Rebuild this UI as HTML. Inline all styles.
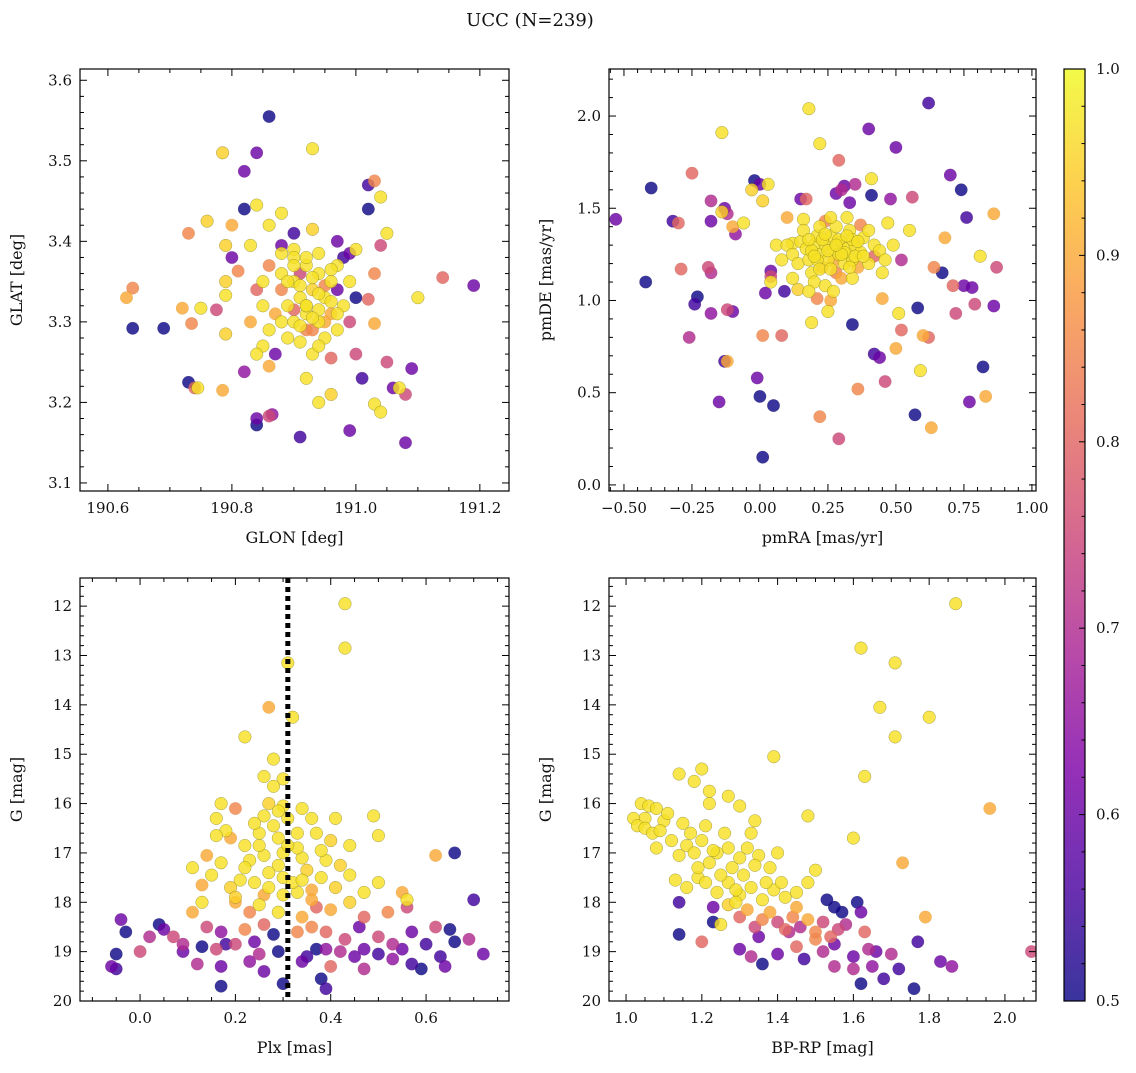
<!DOCTYPE html>
<html><head><meta charset="utf-8"><style>
body{margin:0;background:#fff;}
svg text{font-family:"DejaVu Serif","Liberation Serif",serif;fill:#111;}
</style></head><body>
<svg id="fig" width="1136" height="1068" viewBox="0 0 1136 1068" xmlns="http://www.w3.org/2000/svg">
<defs>
<linearGradient id="cbgrad" x1="0" y1="1" x2="0" y2="0">
<stop offset="0" stop-color="#0d0887"/><stop offset="0.125" stop-color="#4c02a1"/><stop offset="0.25" stop-color="#7e03a8"/><stop offset="0.375" stop-color="#a92395"/><stop offset="0.5" stop-color="#cc4778"/><stop offset="0.625" stop-color="#e66c5c"/><stop offset="0.75" stop-color="#f89540"/><stop offset="0.875" stop-color="#fdc527"/><stop offset="1" stop-color="#f0f921"/>
</linearGradient>
</defs>
<text x="530" y="26" font-size="18" text-anchor="middle">UCC (N=239)</text>
</svg>
<script>
// ---- Panel 1: GLON vs GLAT ----
const glonVals=[190.86,190.785,190.84,190.93,190.82,191.02,191.03,191.04,190.82,190.84,190.76,190.73,190.80,190.79,190.80,190.81,190.79,190.79,190.64,190.63,190.64,190.69,190.72,190.735,190.75,190.775,190.79,190.73,190.74,190.745,190.785,190.82,190.86,190.84,190.84,190.86,190.865,190.91,190.92,190.94,190.96,190.99,191.01,191.03,191.04,191.05,191.06,191.07,191.08,191.08,191.09,191.10,191.14,191.19,191.03,191.03,191.02,191.0,191.02,191.04,191.05,190.99,191.0,190.97,190.93,190.88,190.9,190.86,190.88,190.9,190.83,190.85,190.84,
190.88,190.9,190.92,190.94,190.96,190.91,190.93,190.95,190.89,190.87,190.9,190.92,190.94,190.96,190.98,190.88,190.86,190.89,190.92,190.95,190.97,190.99,190.85,190.87,190.93,190.96,190.9,190.94,190.97,190.99,190.86,190.88,190.91,190.97,190.98,190.85,190.83,190.84,191.0,190.92,
190.91,190.93,190.95,190.92,190.94,190.9,190.96,190.93,190.91,190.95,190.89,190.97,190.92,190.94,190.9,190.93,190.88,190.96,190.91,190.94];
const glatVals=[3.555,3.51,3.51,3.515,3.487,3.47,3.475,3.455,3.44,3.445,3.425,3.41,3.42,3.395,3.38,3.363,3.35,3.333,3.342,3.33,3.292,3.292,3.317,3.298,3.317,3.315,3.285,3.225,3.218,3.218,3.215,3.238,3.245,3.18,3.172,3.183,3.185,3.157,3.23,3.2,3.21,3.165,3.23,3.198,3.188,3.25,3.218,3.218,3.21,3.15,3.242,3.33,3.355,3.345,3.36,3.298,3.328,3.33,3.44,3.395,3.41,3.385,3.39,3.4,3.415,3.435,3.41,3.42,3.395,3.39,3.395,3.35,3.34,
3.36,3.35,3.37,3.36,3.35,3.33,3.34,3.33,3.32,3.31,3.3,3.31,3.3,3.31,3.32,3.34,3.29,3.28,3.29,3.28,3.29,3.3,3.27,3.26,3.26,3.255,3.38,3.385,3.37,3.35,3.37,3.385,3.36,3.34,3.38,3.32,3.3,3.26,3.26,3.32,
3.345,3.355,3.345,3.32,3.315,3.315,3.325,3.305,3.295,3.3,3.35,3.31,3.38,3.335,3.37,3.29,3.3,3.365,3.275,3.27];
const prob1=[.5,.95,.6,.97,.6,.55,.85,.97,.5,.97,.95,.85,.9,.95,.6,.85,.95,.97,.85,.9,.5,.5,.9,.85,.97,.75,.95,.5,.8,.97,.9,.65,.9,.6,.5,.75,.65,.55,.97,.97,.95,.6,.55,.97,.97,.75,.6,.97,.75,.6,.6,.97,.8,.6,.85,.9,.8,.5,.5,.75,.97,.6,.97,.6,.95,.97,.55,.97,.6,.97,.97,.97,.8,
.97,.97,.97,.97,.97,.97,.95,.97,.97,.9,.97,.97,.97,.9,.97,.85,.97,.97,.85,.97,.97,.75,.97,.6,.97,.8,.97,.97,.97,.97,.85,.97,.75,.6,.55,.97,.9,.97,.75,.97,
.97,.97,.85,.97,.97,.8,.97,.97,.97,.9,.97,.97,.97,.97,.97,.85,.97,.97,.97,.97];

// ---- Panel 2: pmRA vs pmDE ----
const pmraVals=[-0.53,-0.4,-0.42,-0.32,-0.3,-0.25,-0.29,-0.23,-0.24,-0.26,-0.18,-0.18,-0.19,-0.18,-0.18,-0.14,-0.14,-0.13,-0.12,-0.1,-0.09,-0.15,-0.13,-0.12,-0.12,-0.1,-0.06,-0.03,-0.02,0.0,0.01,0.03,-0.01,0.0,0.01,0.01,0.05,0.02,0.04,0.04,0.04,0.06,0.08,0.09,0.1,0.12,0.14,0.15,0.16,0.17,0.18,0.19,0.21,0.22,0.22,0.24,0.25,0.26,0.28,0.29,0.29,0.3,0.31,0.33,0.34,0.35,0.37,0.36,0.4,0.41,0.41,0.42,0.42,0.44,0.45,0.46,0.47,0.48,0.49,0.5,0.5,0.51,0.52,0.52,0.55,0.56,0.57,0.58,0.59,0.6,0.62,0.62,0.63,0.64,0.67,0.68,0.7,0.71,0.72,0.74,0.75,0.76,0.77,0.78,0.79,0.81,0.82,0.83,0.86,0.86,0.87,
0.1,0.12,0.14,0.15,0.17,0.18,0.19,0.2,0.21,0.22,0.23,0.24,0.25,0.26,0.27,0.28,0.29,0.3,0.31,0.32,0.33,0.34,0.35,0.36,0.37,0.38,0.4,0.42,0.44,0.46,0.2,0.24,0.3,0.16,0.28,0.22,0.12,0.08,0.34,0.27,0.26,0.32,0.18,0.4,0.45,
0.19,0.21,0.23,0.25,0.27,0.29,0.31,0.33,0.35,0.22,0.26,0.3,0.34,0.24,0.28,0.32,0.2,0.36,0.18,0.38];
const pmdeVals=[1.44,1.61,1.1,1.43,1.42,1.69,1.17,1.02,0.98,0.8,1.54,1.43,1.18,1.15,0.93,1.91,1.48,1.5,1.47,1.4,1.36,0.45,0.67,0.67,0.95,0.94,1.42,1.6,1.65,1.63,1.54,1.63,0.58,0.48,0.81,0.15,0.43,1.04,1.13,1.16,1.1,1.3,0.81,1.05,1.45,1.31,1.06,1.55,1.44,1.55,2.04,0.88,1.01,1.85,0.37,1.43,0.94,1.0,1.58,1.76,0.25,1.6,1.62,1.53,0.87,1.63,1.41,0.52,1.93,1.66,1.57,0.71,1.24,0.69,1.01,0.56,1.42,1.55,1.3,1.83,0.74,0.93,0.84,1.22,1.38,1.56,0.38,0.96,0.62,0.81,0.8,2.07,0.31,1.18,1.15,1.34,1.68,1.08,0.93,1.6,1.08,1.45,0.45,1.07,0.98,1.24,0.64,0.48,1.47,0.97,1.18,
1.3,1.25,1.2,1.32,1.28,1.22,1.15,1.3,1.35,1.25,1.18,1.3,1.22,1.35,1.28,1.15,1.25,1.32,1.2,1.28,1.38,1.22,1.3,1.18,1.26,1.34,1.2,1.3,1.27,1.22,1.1,1.08,1.12,1.38,1.4,1.4,1.12,1.22,1.12,1.05,1.45,1.45,1.05,1.38,1.15,
1.27,1.22,1.33,1.27,1.21,1.33,1.26,1.18,1.24,1.17,1.17,1.25,1.33,1.36,1.3,1.35,1.24,1.32,1.33,1.24];
const prob2=[.6,.5,.5,.55,.8,.8,.8,.5,.55,.7,.7,.6,.75,.7,.65,.97,.95,.6,.7,.9,.65,.6,.55,.9,.75,.6,.97,.95,.5,.6,.95,.97,.6,.5,.85,.5,.5,.6,.75,.6,.97,.97,.8,.55,.9,.97,.95,.6,.97,.8,.97,.97,.85,.97,.85,.85,.97,.9,.6,.8,.75,.7,.6,.6,.5,.7,.85,.85,.6,.97,.5,.55,.8,.6,.9,.75,.97,.65,.97,.6,.9,.97,.8,.7,.97,.75,.5,.5,.97,.9,.8,.55,.9,.85,.5,.9,.6,.8,.75,.5,.6,.55,.6,.6,.75,.97,.5,.9,.9,.6,.75,
.97,.97,.97,.97,.97,.97,.97,.97,.97,.97,.9,.97,.97,.97,.97,.85,.97,.97,.97,.97,.97,.97,.97,.9,.97,.97,.97,.97,.97,.97,.97,.97,.9,.97,.97,.97,.97,.97,.97,.97,.97,.97,.97,.97,.97,
.97,.97,.97,.97,.9,.97,.97,.97,.97,.97,.97,.97,.97,.97,.97,.97,.97,.97,.97,.97];

// ---- Panel 3: Plx vs G ----
const plxVals=[0.43,0.43,0.31,0.32,0.27,0.22,0.28,0.26,0.3,0.28,0.17,0.2,0.27,0.3,0.34,0.26,0.36,0.41,0.49,0.5,0.16,0.18,0.19,0.16,0.22,0.25,0.29,0.33,0.37,0.4,0.44,0.14,0.11,0.17,0.23,0.26,0.3,0.34,0.39,0.42,0.38,0.44,0.15,0.13,0.19,0.21,0.24,0.27,0.3,0.33,0.36,0.41,0.47,0.5,0.55,0.56,0.62,0.66,0.7,0.11,0.13,0.2,0.23,0.25,0.29,0.34,0.37,0.4,0.44,0.47,0.52,0.56,0.14,0.17,0.22,0.26,0.33,0.36,0.39,0.43,0.46,0.5,0.53,0.57,0.6,0.62,0.65,0.69,-0.04,0.04,0.07,0.05,0.09,0.13,0.18,0.2,0.24,0.28,0.35,0.37,0.39,0.42,0.47,0.5,0.55,0.57,0.59,0.63,0.64,0.66,0.72,-0.05,-0.05,-0.06,-0.03,0.0,0.02,0.09,0.12,0.16,0.17,0.17,0.23,0.26,0.3,0.34,0.38,0.4,0.39,0.45,0.47,0.53,0.25,0.29,
0.28,0.31,0.33,0.25,0.29,0.35,0.27,0.32,0.22,0.38,0.3,0.26,0.34,0.24,0.29,0.31,0.36,0.2];
const gPlxVals=[11.95,12.85,13.15,14.25,14.05,14.65,15.1,15.45,15.5,15.65,16.0,16.1,16.0,16.05,16.1,16.25,16.3,16.3,16.25,16.65,16.3,16.55,16.7,16.65,16.85,16.6,16.7,16.6,16.6,16.75,16.85,17.05,17.3,17.2,17.15,17.05,17.0,17.1,17.15,17.25,17.5,17.45,17.45,17.65,17.7,17.55,17.6,17.7,17.5,17.8,17.75,17.7,17.8,17.6,17.8,17.95,17.05,17.0,17.95,18.2,18.0,18.0,18.2,18.05,18.2,18.3,18.1,18.15,18.0,18.3,18.2,18.1,18.5,18.6,18.55,18.45,18.6,18.5,18.6,18.75,18.5,18.7,18.85,18.6,18.85,18.5,18.55,18.75,18.35,18.45,18.7,18.55,18.85,18.9,18.85,18.85,18.8,18.65,19.1,18.95,18.95,19.0,18.95,19.05,18.95,19.25,19.35,19.1,19.3,18.8,19.05,19.05,19.35,19.3,18.6,19.0,18.7,19.0,19.25,18.95,19.3,19.7,19.2,19.4,19.65,19.2,19.55,19.3,19.75,19.1,19.35,19.15,19.05,19.0,
16.45,16.3,16.9,16.85,17.25,17.35,17.4,17.6,17.3,16.95,17.85,17.85,17.55,16.4,16.15,16.85,17.95,17.9];
const prob3=[.97,.97,.97,.97,.9,.97,.97,.97,.97,.97,.97,.85,.95,.97,.97,.97,.97,.97,.97,.97,.97,.97,.9,.97,.97,.97,.97,.97,.97,.95,.97,.9,.97,.97,.97,.97,.97,.97,.97,.95,.97,.97,.97,.9,.95,.97,.97,.97,.97,.97,.9,.95,.97,.97,.9,.97,.9,.5,.55,.9,.97,.9,.85,.97,.97,.9,.8,.9,.95,.8,.85,.75,.75,.65,.85,.8,.85,.85,.8,.75,.6,.75,.7,.6,.55,.75,.5,.7,.6,.5,.75,.6,.7,.5,.55,.75,.6,.5,.55,.5,.65,.7,.6,.55,.6,.55,.5,.55,.6,.5,.6,.5,.55,.6,.5,.75,.7,.6,.7,.75,.6,.5,.65,.6,.5,.6,.5,.8,.55,.6,.7,.65,.7,.5,
.97,.97,.97,.97,.97,.95,.97,.97,.97,.97,.97,.9,.97,.97,.97,.97,.9,.95];
const plxLine=0.31;

// ---- Panel 4: BP-RP vs G ----
const bprpVals=[1.87,1.62,1.71,1.67,1.8,1.71,1.39,1.63,1.14,1.18,1.2,1.27,1.22,1.22,1.3,1.34,1.48,1.05,1.02,1.04,1.06,1.08,1.03,1.05,1.07,1.08,1.1,1.12,1.14,1.16,1.18,1.2,1.22,1.24,1.27,1.3,1.32,1.35,1.38,1.4,1.13,1.16,1.19,1.21,1.24,1.27,1.3,1.33,1.36,1.39,1.42,1.45,1.48,1.5,
1.96,1.73,1.79,1.6,1.25,1.14,1.14,1.2,1.23,1.23,1.3,1.33,1.35,1.36,1.4,1.43,1.45,1.47,1.5,1.52,1.55,1.55,1.57,1.6,1.6,1.61,1.62,1.63,1.64,1.65,1.66,1.68,1.62,1.7,1.72,1.76,1.77,1.83,1.86,2.07,1.4,1.42,1.44,1.46,1.48,1.5,1.52,1.54,1.56,1.58,1.3,1.32,1.34,1.36,1.38,1.27,1.29,1.45,1.53,1.55,
1.09,1.11,1.15,1.17,1.19,1.21,1.23,1.25,1.28,1.31,1.34,1.37,1.26,1.33,1.29,1.41];
const gBprpVals=[11.95,12.85,13.15,14.05,14.25,14.65,15.05,15.45,15.4,15.55,15.3,15.85,15.75,16.0,16.05,16.35,16.25,16.3,16.3,16.0,16.05,16.1,16.45,16.5,16.6,16.9,16.35,16.75,17.05,16.85,17.0,16.75,17.2,17.0,16.9,17.1,16.9,17.05,17.3,17.0,17.55,17.7,17.5,17.6,17.8,17.6,17.85,17.7,17.95,17.75,17.9,17.8,17.6,17.35,
16.1,17.2,18.3,16.7,18.45,18.65,18.0,18.8,18.1,18.4,18.95,19.1,18.7,19.25,19.05,18.6,18.9,19.15,18.75,19.0,18.85,19.3,18.2,19.1,19.35,18.0,18.2,18.6,18.95,19.3,19.0,19.55,19.65,19.05,19.35,19.75,18.8,19.2,19.3,19.0,18.4,18.55,18.3,18.5,18.35,18.6,18.4,18.7,18.55,18.45,18.3,18.15,18.5,18.35,18.2,18.05,18.0,18.1,17.95,18.1,
16.55,16.2,16.4,16.6,17.3,16.45,16.95,17.45,17.3,17.45,17.25,17.6,16.6,16.6,17.75,17.6];
const prob4=[.97,.97,.97,.97,.97,.97,.97,.97,.97,.97,.97,.97,.97,.97,.97,.97,.97,.97,.97,.97,.97,.97,.97,.97,.97,.97,.97,.97,.97,.97,.97,.97,.97,.97,.97,.97,.97,.97,.97,.97,.97,.97,.97,.97,.97,.97,.97,.97,.97,.97,.97,.97,.97,.97,
.9,.9,.9,.97,.97,.5,.55,.8,.6,.5,.6,.7,.6,.5,.6,.7,.8,.55,.85,.7,.6,.7,.5,.6,.7,.5,.6,.8,.7,.65,.6,.55,.5,.7,.55,.5,.55,.6,.65,.75,.75,.8,.85,.7,.9,.85,.75,.8,.75,.7,.8,.9,.75,.85,.9,.95,.97,.9,.5,.5,
.97,.97,.97,.97,.97,.97,.97,.97,.97,.97,.97,.97,.97,.97,.97,.97];

// ---- Colorbar ticks ----
const cbTicks=[0.5,0.6,0.7,0.8,0.9,1.0];
const cbMin=0.5, cbMax=1.0;

const NS="http://www.w3.org/2000/svg";
const svg=document.getElementById('fig');
function mk(tag,attrs,parent){const e=document.createElementNS(NS,tag);for(const k in attrs)e.setAttribute(k,attrs[k]);(parent||svg).appendChild(e);return e;}

const stops=[[0,[13,8,135]],[0.125,[76,2,161]],[0.25,[126,3,168]],[0.375,[169,35,149]],[0.5,[204,71,120]],[0.625,[230,108,92]],[0.75,[248,149,64]],[0.875,[253,197,39]],[1,[240,249,33]]];
function plasma(v){let t=(v-cbMin)/(cbMax-cbMin);t=Math.max(0,Math.min(1,t));for(let i=1;i<stops.length;i++){if(t<=stops[i][0]){const a=stops[i-1],b=stops[i];const f=(t-a[0])/(b[0]-a[0]);return 'rgb('+a[1].map((c,j)=>Math.round(c+(b[1][j]-c)*f)).join(',')+')';}}return 'rgb(240,249,33)';}
function fmtNum(v,d){const s=Math.abs(v).toFixed(d);return (v<-1e-9?'\u2212':'')+s;}

const panels=[
 {name:'glon-glat',x0:80,y0:69,w:429,h:422,xmin:190.555,xmax:191.247,ymin:3.090,ymax:3.614,inv:false,xt:[190.6,190.8,191.0,191.2],xd:1,xm:0.05,yt:[3.1,3.2,3.3,3.4,3.5,3.6],yd:1,ym:0.02,xl:'GLON [deg]',yl:'GLAT [deg]',xs:glonVals,ys:glatVals,cs:prob1},
 {name:'pmra-pmde',x0:609,y0:69,w:427,h:422,xmin:-0.555,xmax:1.015,ymin:-0.033,ymax:2.255,inv:false,xt:[-0.5,-0.25,0,0.25,0.5,0.75,1.0],xd:2,xm:0.05,yt:[0,0.5,1.0,1.5,2.0],yd:1,ym:0.1,xl:'pmRA [mas/yr]',yl:'pmDE [mas/yr]',xs:pmraVals,ys:pmdeVals,cs:prob2},
 {name:'plx-g',x0:80,y0:578,w:429,h:423,xmin:-0.126,xmax:0.774,ymin:11.43,ymax:20,inv:true,xt:[0,0.2,0.4,0.6],xd:1,xm:0.05,yt:[12,13,14,15,16,17,18,19,20],yd:0,ym:0.2,xl:'Plx [mas]',yl:'G [mag]',xs:plxVals,ys:gPlxVals,cs:prob3,vline:plxLine},
 {name:'bprp-g',x0:609,y0:578,w:427,h:423,xmin:0.955,xmax:2.082,ymin:11.43,ymax:20,inv:true,xt:[1.0,1.2,1.4,1.6,1.8,2.0],xd:1,xm:0.05,yt:[12,13,14,15,16,17,18,19,20],yd:0,ym:0.2,xl:'BP-RP [mag]',yl:'G [mag]',xs:bprpVals,ys:gBprpVals,cs:prob4}
];

panels.forEach(p=>{
 const X=v=>p.x0+(v-p.xmin)/(p.xmax-p.xmin)*p.w;
 const Y=v=>p.inv? p.y0+(v-p.ymin)/(p.ymax-p.ymin)*p.h : p.y0+p.h-(v-p.ymin)/(p.ymax-p.ymin)*p.h;
 const g=mk('g',{});
 
 
 const clipId='clip-'+p.name;
 const cp=mk('clipPath',{id:clipId},g);mk('rect',{x:p.x0,y:p.y0,width:p.w,height:p.h},cp);
 const pts=mk('g',{'clip-path':'url(#'+clipId+')'},g);
 
 
 const idx=p.xs.map((_,i)=>i).sort((a,b)=>p.cs[a]-p.cs[b]);
 idx.forEach(i=>{
  const c=mk('circle',{cx:X(p.xs[i]).toFixed(1),cy:Y(p.ys[i]).toFixed(1),r:6.3,fill:plasma(p.cs[i]),'fill-opacity':0.82,stroke:'#6b6b20','stroke-width':0.5,'stroke-opacity':p.cs[i]>0.9?0.6:0.15},pts);
  
  
 });
 if(p.vline!==undefined){
  const l=mk('line',{x1:X(p.vline),x2:X(p.vline),y1:p.y0,y2:p.y0+p.h,stroke:'#000','stroke-width':5,'stroke-dasharray':'5,4'},g);
  
  
 }
 const fr=mk('rect',{x:p.x0,y:p.y0,width:p.w,height:p.h,fill:'none',stroke:'#000','stroke-width':1.2},g);
 
 
 const tk=mk('g',{stroke:'#000','stroke-width':1},g);
 const xlo=Math.ceil(p.xmin/p.xm-1e-6),xhi=Math.floor(p.xmax/p.xm+1e-6);
 for(let k=xlo;k<=xhi;k++){const v=k*p.xm;const major=p.xt.some(t=>Math.abs(t-v)<1e-6);const L=major?7:4;const x=X(v);
  mk('line',{x1:x,x2:x,y1:p.y0+p.h,y2:p.y0+p.h-L},tk);mk('line',{x1:x,x2:x,y1:p.y0,y2:p.y0+L},tk);}
 const ylo=Math.ceil(p.ymin/p.ym-1e-6),yhi=Math.floor(p.ymax/p.ym+1e-6);
 for(let k=ylo;k<=yhi;k++){const v=k*p.ym;const major=p.yt.some(t=>Math.abs(t-v)<1e-6);const L=major?7:4;const y=Y(v);
  mk('line',{x1:p.x0,x2:p.x0+L,y1:y,y2:y},tk);mk('line',{x1:p.x0+p.w,x2:p.x0+p.w-L,y1:y,y2:y},tk);}
 p.xt.forEach(v=>{const t=mk('text',{x:X(v),y:p.y0+p.h+22,'font-size':15,'text-anchor':'middle'},g);t.textContent=fmtNum(v,p.xd);
  
  });
 p.yt.forEach(v=>{const t=mk('text',{x:p.x0-8,y:Y(v)+5,'font-size':15,'text-anchor':'end'},g);t.textContent=fmtNum(v,p.yd);
  
  });
 const xl=mk('text',{x:p.x0+p.w/2,y:p.y0+p.h+52,'font-size':16,'text-anchor':'middle'},g);xl.textContent=p.xl;
 
 
 const yx=p.x0-58, yy=p.y0+p.h/2;
 const yl=mk('text',{x:yx,y:yy,'font-size':16,'text-anchor':'middle',transform:'rotate(-90 '+yx+' '+yy+')'},g);yl.textContent=p.yl;
 
 
});

// colorbar
const cb={x:1064,y:69,w:21,h:932};
const cbg=mk('g',{});


mk('rect',{x:cb.x,y:cb.y,width:cb.w,height:cb.h,fill:'url(#cbgrad)','fill-opacity':0.82},cbg);
mk('rect',{x:cb.x,y:cb.y,width:cb.w,height:cb.h,fill:'none',stroke:'#000','stroke-width':1.2},cbg);
const CY=v=>cb.y+cb.h-(v-cbMin)/(cbMax-cbMin)*cb.h;
for(let k=25;k<=50;k++){const v=k*0.02;const major=cbTicks.some(t=>Math.abs(t-v)<1e-6);const y=CY(v);
 mk('line',{x1:cb.x+cb.w,x2:cb.x+cb.w-(major?6:3.5),y1:y,y2:y,stroke:'#000','stroke-width':1},cbg);}
cbTicks.forEach(v=>{const t=mk('text',{x:cb.x+cb.w+11,y:CY(v)+5,'font-size':15},cbg);t.textContent=v.toFixed(1);
 
 });
</script>
</body></html>
